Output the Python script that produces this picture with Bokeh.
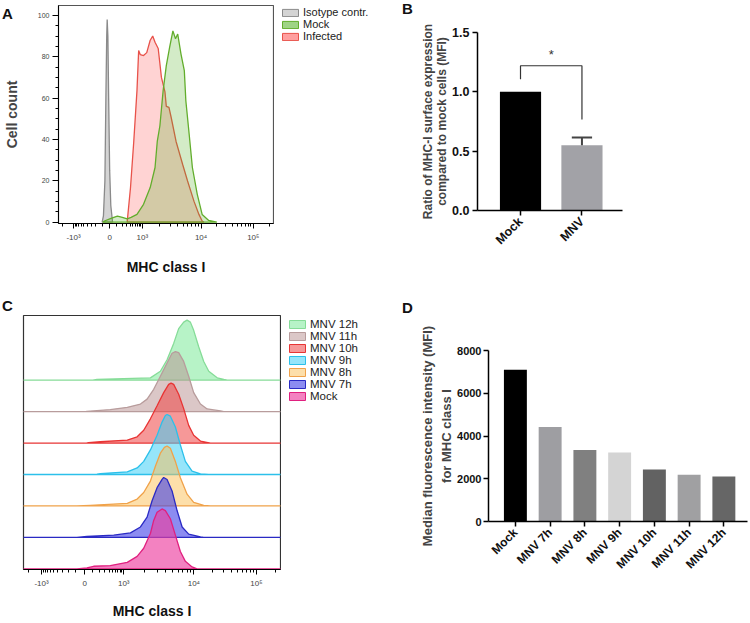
import numpy as np
from math import pi
from bokeh.plotting import figure
from bokeh.layouts import row, column
from bokeh.models import FixedTicker, Legend, LegendItem, Div
from bokeh.core.properties import value
from bokeh.embed import file_html
from bokeh.resources import INLINE

FONT = "Liberation Sans"

# ---------------- flow-cytometry axis (biexponential display) ----------------
FLOW_TICK_VALUES = [-1000, 0, 1000, 10000, 100000]
FLOW_TICK_LABELS = ["-10³", "0", "10³", "10⁴", "10⁵"]
FLOW_TICK_POS = [0.07, 0.238, 0.39, 0.663, 0.906]   # fraction of the axis width
FLOW_MINOR = ([-v for v in range(100, 1000, 100)] + [-2000] + list(range(100, 1000, 100))
              + list(range(2000, 10000, 1000)) + list(range(20000, 100000, 10000)) + [200000])

# ---------------- Panel A: histograms (MHC class I intensity, cell count) -----
A_SERIES = ["Isotype contr.", "Mock", "Infected"]
A_ISO_V = [-100, -82, -62, -49, -38, -32, -23, -13, 0, 16, 41]
A_ISO_N = [0, 3, 20, 60, 90, 98, 90, 60, 25, 8, 0]

A_INF_V = [316, 414, 532, 676, 765, 864, 1048, 1190, 1365, 1507, 1652, 1871, 2123, 2438,
           2570, 2851, 3112, 3767, 4864, 5888, 7603, 9204, 10495, 11300]
A_INF_N = [0, 16.7, 39, 63.6, 83, 81, 80.6, 82, 88, 90, 87, 84, 70, 63, 56, 55.5, 50.6,
           39, 28, 20, 10, 3.7, 0.5, 0]

A_MOCK_V = [-91, -68, 19, 115, 204, 316, 433, 676, 1048, 1365, 1652, 1803, 2000, 2270, 2570,
            2931, 3327, 3683, 4018, 4560, 5200, 5521, 6281, 7129, 8630, 10495, 14030, 20050]
A_MOCK_N = [0, 0.5, 1.8, 2.9, 2.3, 1.5, 2.3, 3.7, 8.6, 16.7, 26.4, 39, 46.6, 63.6, 75.7,
            84.6, 92.5, 88.7, 91, 81.4, 73.3, 58.7, 42.6, 26.4, 13.4, 3.7, 0.8, 0]

A_Y_TICKS = [0, 20, 40, 60, 80, 100]
A_FILL = {"Isotype contr.": "#cfcfcf", "Mock": "#50b020", "Infected": "#ff5050"}
A_LINE = {"Isotype contr.": "#8a8a8a", "Mock": "#62ad2c", "Infected": "#e8524a"}
A_ALPHA = {"Isotype contr.": 0.9, "Mock": 0.25, "Infected": 0.25}
A_KEY_ALPHA = {"Isotype contr.": 0.9, "Mock": 0.55, "Infected": 0.55}

# ---------------- Panel B: ratio of MHC-I surface expression ----------------
B_GROUPS = ["Mock", "MNV"]
B_RATIO = [1.0, 0.55]
B_SEM = [0.0, 0.065]
B_COLORS = ["#000000", "#a2a2a7"]
B_Y_TICKS = [0.0, 0.5, 1.0, 1.5]
B_BRACKET_Y = 1.22
B_BRACKET_LEGS = [1.105, 0.767]

# ---------------- Panel C: normalised histograms per time point -------------
C_GROUPS = ["Mock", "MNV 7h", "MNV 8h", "MNV 9h", "MNV 10h", "MNV 11h", "MNV 12h"]
C_V = {
    "Mock":    [-3000, -85, 27, 111, 433, 1125, 1560, 1936, 2410, 2685, 3000, 3532, 3936, 4634,
                5458, 6427, 7568, 9419, 11250, 300000],
    "MNV 7h":  [-3000, -85, 27, 541, 1250, 1738, 2163, 2547, 3000, 3532, 3724, 4159, 4898, 5768,
                6808, 8433, 12730, 14370, 300000],
    "MNV 8h":  [-3000, -85, 68, 1125, 1560, 1936, 2410, 2838, 3342, 3811, 4159, 4634, 5458, 6427,
                8000, 9931, 14370, 18410, 300000],
    "MNV 9h":  [-3000, 100, 159, 213, 1125, 1560, 1936, 2410, 3000, 3532, 3936, 4159, 4634, 5458,
                6427, 7568, 9419, 12730, 17300, 300000],
    "MNV 10h": [-3000, 20, 46, 213, 1125, 1560, 1936, 2410, 3000, 3724, 4385, 4742, 5164, 6081,
                7161, 8433, 9931, 12730, 18410, 300000],
    "MNV 11h": [-3000, 10, 27, 433, 1125, 1738, 2163, 2685, 3342, 4159, 4898, 5458, 6081, 7161,
                8433, 9931, 12730, 16290, 26670, 30130, 300000],
    "MNV 12h": [-3000, 100, 159, 2410, 3342, 4159, 5164, 6081, 7161, 8000, 8913, 9931, 11940,
                14370, 17300, 23600, 30130, 34140, 300000],
}
C_N = {
    "Mock":    [0, 0, 1.6, 4.4, 5.5, 10.9, 20.8, 34.4, 59, 80.9, 94.5, 100, 97.3, 83.6, 56.3, 29,
                12.6, 3.3, 0, 0],
    "MNV 7h":  [0, 0, 1.6, 3.8, 7.6, 17.5, 33.9, 61.2, 83, 96.7, 100, 96.7, 77.6, 44.8, 17.5, 5.5,
                1.1, 0, 0],
    "MNV 8h":  [0, 0, 1.1, 4.4, 11.5, 22.4, 41.5, 66.1, 88, 97.8, 100, 96.2, 74.3, 47, 19.7, 6,
                1.1, 0, 0],
    "MNV 9h":  [0, 0, 0.5, 1.6, 4.4, 10.9, 21.9, 41, 65.6, 87.4, 98.4, 100, 97.3, 79.2, 49.2,
                21.9, 5.5, 1.1, 0, 0],
    "MNV 10h": [0, 0, 0.5, 2.2, 4.9, 10.4, 21.3, 40.4, 62.3, 84.1, 97.8, 100, 97.8, 81.4, 57.4,
                29.5, 13.1, 3.3, 0, 0],
    "MNV 11h": [0, 0, 0.5, 3.3, 7.1, 12.6, 20.8, 37.2, 59, 80.9, 97.3, 100, 98.4, 83.6, 59, 31.7,
                12.6, 4.4, 1.1, 0, 0],
    "MNV 12h": [0, 0, 1.1, 3.8, 14.8, 33.9, 61.2, 85.8, 96.7, 100, 96.7, 83, 55.7, 31.1, 14.8,
                3.8, 1.1, 0, 0],
}
C_LINE = {"Mock": "#e0207f", "MNV 7h": "#2a2ac4", "MNV 8h": "#f0a24a", "MNV 9h": "#2cc0ea",
          "MNV 10h": "#e83434", "MNV 11h": "#b89c9c", "MNV 12h": "#86dc98"}
C_FILL = {"Mock": "#ec3fa0", "MNV 7h": "#4040e8", "MNV 8h": "#fbbf55", "MNV 9h": "#40d0f5",
          "MNV 10h": "#ee4444", "MNV 11h": "#b89090", "MNV 12h": "#70e890"}
C_ALPHA = {"Mock": 0.65, "MNV 7h": 0.6, "MNV 8h": 0.5, "MNV 9h": 0.55, "MNV 10h": 0.55,
           "MNV 11h": 0.5, "MNV 12h": 0.5}
C_STEP = 52.46   # vertical offset between stacked histograms (in % of mode)

# ---------------- Panel D: median fluorescence intensity ----------------
D_GROUPS = ["Mock", "MNV 7h", "MNV 8h", "MNV 9h", "MNV 10h", "MNV 11h", "MNV 12h"]
D_MFI = [7100, 4420, 3350, 3230, 2430, 2190, 2110]
D_COLORS = ["#000000", "#9e9ea2", "#808080", "#d4d4d4", "#626262", "#a0a0a2", "#666666"]
D_Y_TICKS = [0, 2000, 4000, 6000, 8000]

PANEL_LETTERS = ["A", "B", "C", "D"]


# ---------------- helpers ----------------
H_TICKS = np.arcsinh(np.array(FLOW_TICK_VALUES, float) / 200.0) / np.log(10)


def flow_x(v):
    h = np.arcsinh(np.asarray(v, float) / 200.0) / np.log(10)
    out = np.interp(h, H_TICKS, FLOW_TICK_POS)
    s_lo = (FLOW_TICK_POS[1] - FLOW_TICK_POS[0]) / (H_TICKS[1] - H_TICKS[0])
    s_hi = (FLOW_TICK_POS[-1] - FLOW_TICK_POS[-2]) / (H_TICKS[-1] - H_TICKS[-2])
    lo = h < H_TICKS[0]
    hi = h > H_TICKS[-1]
    out[lo] = FLOW_TICK_POS[0] + (h[lo] - H_TICKS[0]) * s_lo
    out[hi] = FLOW_TICK_POS[-1] + (h[hi] - H_TICKS[-1]) * s_hi
    return out


def style_flow_xaxis(p):
    ax = p.xaxis[0]
    ax.ticker = FixedTicker(ticks=FLOW_TICK_POS,
                            minor_ticks=[float(t) for t in flow_x(FLOW_MINOR)])
    ax.major_label_overrides = {pos: lab for pos, lab in zip(FLOW_TICK_POS, FLOW_TICK_LABELS)}
    ax.major_tick_out = 5
    ax.major_tick_in = 0
    ax.minor_tick_out = 3
    ax.minor_tick_in = 0
    ax.major_label_text_font = FONT
    ax.major_label_text_font_size = "8px"
    ax.major_label_standoff = 4
    ax.axis_label = "MHC class I"
    ax.axis_label_text_font = FONT
    ax.axis_label_text_font_style = "bold"
    ax.axis_label_text_font_size = "14px"
    ax.axis_label_text_color = "#111111"


def new_fig(**kw):
    p = figure(output_backend="svg", toolbar_location=None, **kw)
    p.frame_align = False
    p.grid.visible = False
    return p


def key_fig(width, height):
    """Axis-less figure whose frame fills the canvas; it only shows a legend
    (its y-range lies below all data, so the swatch renderers stay out of view)."""
    p = figure(width=width, height=height, x_range=(0, 1), y_range=(-2, -1),
               x_axis_type=None, y_axis_type=None, output_backend="svg",
               toolbar_location=None, min_border=0)
    p.frame_align = False
    p.grid.visible = False
    p.outline_line_color = None
    return p


# ================= Panel A =================
pa = new_fig(width=274, height=300, x_range=(0, 1), y_range=(-0.7, 104.8),
             min_border_left=53, min_border_right=1, min_border_top=5, min_border_bottom=77)
pa.outline_line_color = "#555555"
pa.outline_line_width = 1.2
a_data = {"Isotype contr.": (A_ISO_V, A_ISO_N), "Infected": (A_INF_V, A_INF_N),
          "Mock": (A_MOCK_V, A_MOCK_N)}
for name in ["Isotype contr.", "Infected", "Mock"]:
    v, n = a_data[name]
    pa.patch(flow_x(v), n, fill_color=A_FILL[name], fill_alpha=A_ALPHA[name],
             line_color=A_LINE[name], line_width=1.3)

style_flow_xaxis(pa)
pa.xaxis[0].axis_label_standoff = 14
ya = pa.yaxis[0]
ya.ticker = FixedTicker(ticks=A_Y_TICKS, minor_ticks=list(range(0, 101, 5)))
ya.major_tick_out = 6
ya.major_tick_in = 0
ya.minor_tick_out = 3
ya.minor_tick_in = 0
ya.major_label_text_font = FONT
ya.major_label_text_font_size = "7px"
ya.major_label_standoff = 3
ya.axis_label = "Cell count"
ya.axis_label_text_font = FONT
ya.axis_label_text_font_style = "bold"
ya.axis_label_text_font_size = "14px"
ya.axis_label_standoff = 15

# legend of panel A (strip between panels A and B)
ka = key_fig(141, 300)
ka_items = []
for name in A_SERIES:
    v, n = a_data[name]
    r = ka.patch(flow_x(v), n, fill_color=A_FILL[name], fill_alpha=A_KEY_ALPHA[name],
                 line_color=A_LINE[name], line_width=1)
    ka_items.append(LegendItem(label=name, renderers=[r]))
ka.add_layout(Legend(items=ka_items, location=(6, 258), margin=0, padding=0, spacing=0,
                     glyph_width=20, glyph_height=9, label_height=11, label_standoff=3,
                     label_text_font=FONT, label_text_font_size="11px",
                     label_text_color="#222222",
                     border_line_alpha=0, background_fill_alpha=0))

# ================= Panel B =================
bx = np.arange(len(B_GROUPS))
pb = new_fig(width=333, height=300, x_range=(-0.70, 1.66), y_range=(0, 1.5),
             min_border_left=62, min_border_right=126, min_border_top=32, min_border_bottom=90)
pb.outline_line_color = None
pb.vbar(x=bx, top=B_RATIO, width=0.67, fill_color=B_COLORS, line_color=None)
b_top = np.array(B_RATIO) + np.array(B_SEM)
has_err = np.array(B_SEM) > 0
pb.segment(x0=bx[has_err], y0=np.array(B_RATIO)[has_err], x1=bx[has_err], y1=b_top[has_err],
           line_color="#444444", line_width=2)
pb.segment(x0=bx[has_err] - 0.165, y0=b_top[has_err], x1=bx[has_err] + 0.165, y1=b_top[has_err],
           line_color="#444444", line_width=2)
pb.line(x=[bx[0], bx[0], bx[1], bx[1]],
        y=[B_BRACKET_LEGS[0], B_BRACKET_Y, B_BRACKET_Y, B_BRACKET_LEGS[1]],
        line_color="#333333", line_width=1.2)
pb.text(x=[(bx[0] + bx[1]) / 2], y=[B_BRACKET_Y + 0.03], text=["*"],
        text_font=value(FONT), text_font_size="13px", text_align="center",
        text_baseline="bottom", text_color="#333333")
for ax in (pb.xaxis[0], pb.yaxis[0]):
    ax.axis_line_width = 1.5
    ax.major_tick_line_width = 1.5
    ax.major_tick_out = 5
    ax.major_tick_in = 0
    ax.minor_tick_line_color = None
    ax.major_label_text_font = FONT
    ax.major_label_text_font_style = "bold"
    ax.major_label_text_font_size = "12.5px"
    ax.major_label_text_color = "#111111"
pb.yaxis[0].ticker = FixedTicker(ticks=B_Y_TICKS)
pb.yaxis[0].major_label_overrides = {t: f"{t:.1f}" for t in B_Y_TICKS}
pb.yaxis[0].major_label_standoff = 3
pb.yaxis[0].axis_label = "Ratio of MHC-I surface expression\ncompared to mock cells (MFI)"
pb.yaxis[0].axis_label_text_font = FONT
pb.yaxis[0].axis_label_text_font_style = "bold"
pb.yaxis[0].axis_label_text_font_size = "12px"
pb.yaxis[0].axis_label_text_line_height = 1.0
pb.yaxis[0].axis_label_standoff = 0
pb.xaxis[0].ticker = FixedTicker(ticks=list(bx))
pb.xaxis[0].major_label_overrides = {int(i): g for i, g in zip(bx, B_GROUPS)}
pb.xaxis[0].major_label_orientation = pi / 4
pb.xaxis[0].major_label_standoff = 4

# ================= Panel C =================
pc = new_fig(width=281, height=321, x_range=(0, 1), y_range=(-1, 422.5),
             min_border_left=23, min_border_right=1, min_border_top=15, min_border_bottom=48)
pc.outline_line_color = "#333333"
pc.outline_line_width = 1.2
pc.yaxis.visible = False
for i, g in reversed(list(enumerate(C_GROUPS))):
    pc.patch(flow_x(C_V[g]), np.array(C_N[g]) + i * C_STEP,
             fill_color=C_FILL[g], fill_alpha=C_ALPHA[g],
             line_color=C_LINE[g], line_width=1.3)
style_flow_xaxis(pc)
pc.xaxis[0].axis_label_standoff = 12

# legend of panel C
kc = key_fig(134, 321)
kc_items = []
for g in reversed(C_GROUPS):
    r = kc.patch(flow_x(C_V[g]), C_N[g], fill_color=C_FILL[g], fill_alpha=C_ALPHA[g],
                 line_color=C_LINE[g], line_width=1)
    kc_items.append(LegendItem(label=g, renderers=[r]))
kc.add_layout(Legend(items=kc_items, location=(6, 219), margin=0, padding=0, spacing=0,
                     glyph_width=20, glyph_height=10, label_height=12, label_standoff=3,
                     label_text_font=FONT, label_text_font_size="11.5px",
                     label_text_color="#222222",
                     border_line_alpha=0, background_fill_alpha=0))

# ================= Panel D =================
dx = np.arange(len(D_GROUPS))
pd_ = new_fig(width=333, height=321, x_range=(-0.774, 6.68), y_range=(0, 8000),
              min_border_left=73, min_border_right=1, min_border_top=50, min_border_bottom=100)
pd_.outline_line_color = None
pd_.vbar(x=dx, top=D_MFI, width=0.66, fill_color=D_COLORS, line_color=None)
for ax in (pd_.xaxis[0], pd_.yaxis[0]):
    ax.axis_line_width = 1.5
    ax.major_tick_line_width = 1.5
    ax.major_tick_out = 5
    ax.major_tick_in = 0
    ax.minor_tick_line_color = None
    ax.major_label_text_font = FONT
    ax.major_label_text_font_style = "bold"
    ax.major_label_text_font_size = "12px"
    ax.major_label_text_color = "#111111"
pd_.yaxis[0].ticker = FixedTicker(ticks=D_Y_TICKS)
pd_.yaxis[0].major_label_text_font_size = "11px"
pd_.yaxis[0].major_label_standoff = 2
pd_.yaxis[0].axis_label = "Median fluorescence intensity (MFI)\nfor MHC class I"
pd_.yaxis[0].axis_label_text_font = FONT
pd_.yaxis[0].axis_label_text_font_style = "bold"
pd_.yaxis[0].axis_label_text_font_size = "13px"
pd_.yaxis[0].axis_label_text_line_height = 1.3
pd_.yaxis[0].axis_label_standoff = 0
pd_.xaxis[0].ticker = FixedTicker(ticks=list(dx))
pd_.xaxis[0].major_label_overrides = {int(i): g for i, g in zip(dx, D_GROUPS)}
pd_.xaxis[0].major_label_orientation = pi / 4
pd_.xaxis[0].major_label_standoff = 4

# panel letters, overlaid on the page corners of each panel
LETTER_POS = {"A": (-3, 0), "B": (397, -5), "C": (-3, 292), "D": (397, 294)}
letters = [Div(text=t, width=14, height=18,
               styles={"position": "absolute", "left": f"{LETTER_POS[t][0]}px",
                       "top": f"{LETTER_POS[t][1]}px", "z-index": "10",
                       "font-family": FONT, "font-weight": "bold", "font-size": "15px",
                       "line-height": "18px", "color": "#111111"})
           for t in PANEL_LETTERS]

layout = column(*letters, row(pa, ka, pb), row(pc, kc, pd_))
open("out.html", "w").write(file_html(layout, INLINE))
